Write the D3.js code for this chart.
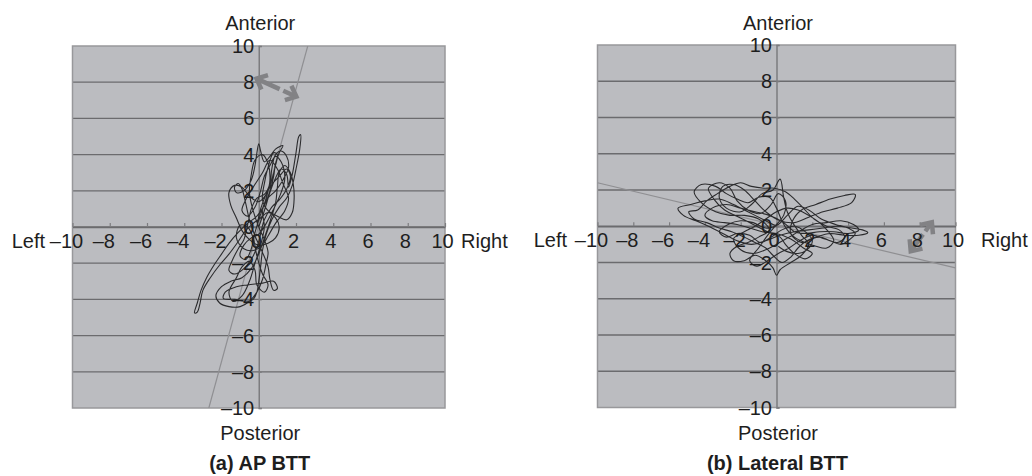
<!DOCTYPE html>
<html><head><meta charset="utf-8">
<script src="https://cdn.jsdelivr.net/npm/d3@7"></script>
<style>
body{margin:0;background:#fff}
text{font-family:"Liberation Sans",Arial,Helvetica,sans-serif;fill:#1e1e1e}
</style>
</head><body>
<svg id="c" width="1032" height="476"></svg>
<script>
// ---------- data ----------
const tickValues = [-10,-8,-6,-4,-2,0,2,4,6,8,10];
const tickLabels = tickValues.map(v => v < 0 ? "\u2013" + Math.abs(v) : String(v));
const captions = ["(a) AP BTT", "(b) Lateral BTT"];
const dirTop = "Anterior", dirBottom = "Posterior", dirLeft = "Left", dirRight = "Right";

// body-trunk-tilt trace, AP task (x: left/right, y: posterior/anterior)
const apTrace = [
 [0.0,0.0],[0.3,0.9],[0.6,1.9],[0.9,2.7],[1.2,3.2],[1.5,2.9],[1.6,2.2],[1.8,2.9],[2.0,4.1],[2.15,5.0],[2.25,5.1],[2.2,4.3],[2.0,3.2],[1.8,2.3],[1.5,1.6],[1.1,1.1],[0.7,0.4],[0.4,-0.4],
 [0.2,-1.3],[0.1,-2.2],[0.0,-3.0],[-0.1,-3.6],[-0.3,-4.0],[-0.7,-4.1],[-1.3,-4.0],[-1.9,-3.95],[-1.8,-3.6],[-1.2,-3.3],[-0.6,-3.2],[0.2,-3.1],[0.8,-3.0],[1.0,-3.4],[0.8,-3.5],[0.6,-2.9],[0.5,-2.2],[0.2,-1.4],
 [-0.2,-0.5],[-0.5,0.4],[-0.7,1.3],[-0.9,2.1],[-1.1,2.4],[-1.3,2.2],[-1.2,1.9],[-0.8,2.0],[-0.4,2.6],[-0.2,3.4],[-0.1,4.1],[0.0,4.6],[0.1,4.2],[0.3,3.6],[0.6,3.9],[0.9,4.3],[1.3,4.5],[1.1,4.1],[0.9,3.5],[0.8,2.8],[0.6,2.0],
 [0.3,1.2],[-0.1,0.6],[-0.6,0.2],[-1.1,-0.3],[-1.6,-0.9],[-2.0,-1.5],[-2.4,-2.1],[-2.8,-2.8],[-3.1,-3.5],[-3.3,-4.2],[-3.45,-4.75],[-3.3,-4.7],[-3.15,-4.2],[-3.0,-3.5],[-2.6,-2.8],[-2.1,-2.1],[-1.6,-1.5],
 [-1.1,-0.8],[-0.7,-0.2],[-0.3,0.2],[0.1,0.5],[0.5,0.8],[0.9,0.5],[1.1,0.0],[0.9,-0.6],[0.5,-0.9],[0.0,-1.0],[-0.5,-0.7],[-0.9,-0.2],[-1.2,0.5],[-1.5,1.2],[-1.6,1.9],[-1.3,2.3],[-0.9,2.2],[-0.5,1.7],[0.0,1.4],[0.4,1.8],[0.7,2.6],[0.9,3.4],[1.0,4.0],[0.8,4.1],[0.5,3.3],[0.3,2.4],[0.2,1.5],
 [0.5,0.9],[1.0,0.6],[1.5,0.4],[1.8,0.8],[1.9,1.6],[1.85,2.4],[1.7,3.0],[1.4,3.4],[1.1,3.0],[1.0,2.2],[0.9,1.3],[0.6,0.3],[0.3,-0.6],
 [0.0,-1.5],[-0.4,-2.3],[-0.9,-2.8],[-1.5,-3.0],[-2.0,-3.3],[-2.3,-3.8],[-2.1,-4.2],[-1.6,-4.4],[-1.0,-4.4],[-0.5,-4.1],[-0.1,-3.6],[0.2,-2.9],[0.4,-2.0],[0.5,-1.4],[0.3,-0.7],
 [0.0,0.0],[-0.3,0.9],[-0.5,1.9],[-0.4,2.9],[-0.2,3.7],[0.2,4.0],[0.5,3.5],[0.6,2.6],[0.4,1.6],[0.1,0.7],[-0.2,-0.3],[-0.4,-1.2],[-0.7,-1.8],[-1.0,-1.6],[-0.8,-1.0],[-0.4,-0.6],[0.0,-0.4],[0.4,0.2],[0.8,1.0],[1.2,1.9],[1.4,2.7],[1.2,3.6],[0.9,3.9],[0.6,3.4],
 [0.3,2.8],[0.1,2.0],[-0.2,1.1],[-0.6,0.6],[-0.9,0.9],[-0.7,1.5],[-0.3,2.2],[0.2,3.0],[0.6,3.7],[1.0,3.2],[1.3,2.4],[1.6,1.6],[1.4,0.9],[0.9,0.2],[0.5,-0.5],[0.2,-1.0],[-0.3,-1.3],[-0.8,-1.2],[-1.2,-0.6],[-1.0,0.1],[-0.6,0.0],[-0.3,-0.6],[-0.1,-1.6],[0.2,-2.6],[0.5,-3.2],[0.3,-3.6],[-0.1,-3.2],[-0.2,-2.4],[-0.5,-1.9],[-0.9,-2.2],[-1.2,-2.8],[-1.6,-3.6],[-1.4,-4.1],[-0.9,-3.8],[-0.5,-3.0],[-0.2,-2.0],[0.1,-1.0],[0.3,0.0],[0.2,1.0],[0.5,1.6],[0.9,2.0],[1.3,2.6],[1.6,3.3],[1.5,3.9],[1.2,4.2],[0.9,4.0],[0.7,3.2],[0.6,2.4],[0.3,1.8],[-0.1,1.6],[-0.4,1.0],[-0.6,0.1],[-0.8,-0.7],[-1.1,-1.2],[-1.4,-1.8],[-1.6,-2.4],[-1.3,-2.6],[-0.8,-2.3],[-0.3,-1.6],[0.0,-0.8],[0.3,0.4],[0.7,1.1],[1.1,1.5],[1.5,2.1],[1.7,2.8],[1.5,3.2],[1.1,2.8],[0.6,2.2],[0.1,1.0],[-0.1,0.0]
];

// body-trunk-tilt trace, lateral task
const latTrace = [
 [0,0],[-0.8,0.4],[-1.6,0.8],[-2.4,1.2],[-3.2,1.5],[-4.0,1.4],[-4.8,1.2],[-5.5,1.0],[-5.2,0.6],[-4.5,0.3],[-3.8,0.0],[-3.0,-0.4],[-2.2,-0.8],[-1.4,-1.0],[-0.6,-0.8],[0.2,-0.5],[1.0,-0.3],[1.8,-0.2],[2.6,-0.1],[3.4,0.0],[4.2,-0.1],[4.8,-0.2],[5.1,-0.35],[4.6,-0.5],[3.8,-0.5],[3.0,-0.4],[2.2,-0.6],[1.4,-0.9],
 [0.8,-0.4],[0.9,0.3],[1.4,0.9],[2.2,1.2],[3.0,1.5],[3.8,1.7],[4.4,1.75],[4.2,1.3],[3.4,1.0],[2.6,0.8],[1.8,0.5],[1.0,0.2],[0.2,0.3],
 [-0.6,0.8],[-1.2,1.4],[-1.8,2.0],[-2.4,2.3],[-3.0,2.2],[-3.2,1.6],[-2.8,1.0],[-2.0,0.8],[-1.4,1.2],[-0.8,1.8],[-0.2,2.0],[0.2,2.6],[0.4,1.6],[0.6,0.8],[0.9,0.2],
 [1.4,-0.5],[1.8,-1.0],[1.4,-1.6],[0.8,-2.0],[0.2,-2.4],[0.0,-2.7],[-0.2,-2.3],[-0.6,-1.9],[-1.2,-1.6],[-1.8,-1.9],[-2.4,-1.9],[-2.6,-1.5],[-2.2,-1.1],[-1.6,-0.9],[-1.0,-0.6],[-0.4,-0.2],
 [-1.0,0.4],[-1.8,0.6],[-2.6,0.6],[-3.4,0.8],[-4.2,1.3],[-4.6,1.9],[-4.2,2.3],[-3.4,2.2],[-2.8,1.8],[-2.2,1.5],[-1.6,1.3],[-1.0,1.6],[-0.4,1.6],[0.0,1.0],[0.3,0.3],
 [0.6,-0.2],[1.0,-0.6],[1.6,-0.9],[2.2,-1.1],[2.8,-1.2],[3.2,-0.8],[2.9,-0.3],[2.4,0.2],[1.8,0.6],[1.2,0.9],[0.6,1.0],[0.0,0.8],[-0.6,0.4],[-1.2,0.0],[-1.8,-0.3],[-2.4,-0.7],[-2.0,-1.3],[-1.3,-1.5],[-0.6,-1.3],[0.0,-1.0],[0.7,-0.6],[1.4,-0.2],[2.0,0.1],[2.8,0.2],[3.6,0.3],[4.3,0.1],[4.6,-0.2],[4.0,-0.4],[3.2,-0.3],[2.4,-0.3],[1.6,-0.4],[1.0,-0.3],
 [0.4,0.2],[-0.4,0.6],[-1.2,0.8],[-2.0,1.0],[-2.8,1.2],[-3.6,1.0],[-4.0,0.6],[-3.6,0.3],[-2.9,0.2],[-2.2,0.1],[-1.5,-0.1],[-0.8,-0.3],[0.0,-0.4],[0.8,-0.7],[1.5,-1.2],[2.0,-1.5],[1.6,-1.8],[1.0,-1.5],[0.5,-1.0],[0.2,-0.6],
 [-0.5,-0.3],[-1.3,0.1],[-2.1,0.5],[-2.9,0.9],[-3.5,1.5],[-3.8,2.1],[-3.2,2.4],[-2.6,2.1],[-2.2,1.4],[-1.6,0.9],[-0.9,0.7],[-0.3,1.2],[0.1,1.8],[0.5,1.4],[0.4,0.6],[0.0,0.1],[-0.5,-0.5],[-1.0,-1.2],[-1.5,-1.9],[-1.1,-2.2],[-0.5,-1.9],[0.1,-1.5],[0.7,-1.2],[1.3,-0.8],[2.0,-0.5],[2.7,-0.7],[3.4,-0.9],[3.8,-0.6],[3.5,-0.2],[2.8,0.0],[2.1,0.4],[1.5,1.0],[1.0,1.5],[0.5,1.9],[-0.1,2.1],[-0.7,2.1],[-1.4,2.2],[-2.0,2.4],[-2.6,2.2],[-3.3,1.8],[-3.9,1.4],[-4.4,0.9],[-4.9,0.8],[-4.6,0.4],[-3.9,0.2],[-3.2,-0.1],[-2.5,-0.3],[-1.8,-0.6],[-1.2,-0.9],[-0.6,-1.2],[-0.2,-1.6],[0.3,-2.0],[0.8,-1.7],[1.2,-1.2],[1.7,-0.8],[2.4,-0.6],[3.0,-0.8],[3.6,-1.0],[4.0,-0.8],[4.4,-0.4],[4.0,-0.1],[3.3,0.1],[2.5,0.4],[1.8,0.9],[1.2,1.1],[0.6,0.6],[0.1,0.1],[-0.6,-0.1],[-1.3,0.2],[-2.0,0.3],[-2.7,0.1],[-3.2,-0.3],[-2.8,-0.6],[-2.2,-0.4],[-1.5,-0.5],[-0.9,-0.9],[-0.3,-0.6],[0.3,-0.2],[1.0,0.0],[1.6,-0.3],[2.0,-0.8],[1.7,-1.3],[1.2,-1.5],[0.6,-1.4],[0.1,-1.1]
];

// fitted principal-direction lines and direction arrows
const apFitLine  = [[-2.68,-10],[2.63,10]];
const latFitLine = [[-10,2.4],[10,-2.3]];
const apArrow  = [[-0.12,8.2],[2.02,7.2]];
const latArrow = [[7.5,-1.38],[8.68,0.22]];

// ---------- drawing ----------
const svg = d3.select("#c");
const FS = 20;

const panels = [
  {box:{x0:72.5, x1:445, y0:46, y1:408}, trace:apTrace, fit:apFitLine, arrow:apArrow, caption:captions[0], leftOff:27.5, rightOff:16},
  {box:{x0:597.5, x1:955.5, y0:45, y1:407.5}, trace:latTrace, fit:latFitLine, arrow:latArrow, caption:captions[1], leftOff:30.5, rightOff:25.5}
];

panels.forEach((p, i) => {
  const b = p.box;
  const x = d3.scaleLinear().domain([-10,10]).range([b.x0, b.x1]);
  const y = d3.scaleLinear().domain([-10,10]).range([b.y1, b.y0]);
  const g = svg.append("g");
  const cx = x(0), cy = y(0);

  g.append("clipPath").attr("id","clip"+i).append("rect")
    .attr("x",b.x0).attr("y",b.y0).attr("width",b.x1-b.x0).attr("height",b.y1-b.y0);

  g.append("rect").attr("x",b.x0).attr("y",b.y0).attr("width",b.x1-b.x0).attr("height",b.y1-b.y0)
    .attr("fill","#bbbcc0");

  // horizontal gridlines
  g.selectAll(".grid").data(tickValues.filter(v => v > -10 && v < 10)).enter().append("line")
    .attr("x1",b.x0).attr("x2",b.x1).attr("y1",d=>y(d)).attr("y2",d=>y(d))
    .attr("stroke","#6b6b6e").attr("stroke-width",1.3);

  // border
  g.append("rect").attr("x",b.x0).attr("y",b.y0).attr("width",b.x1-b.x0).attr("height",b.y1-b.y0)
    .attr("fill","none").attr("stroke","#98989b").attr("stroke-width",1.5);

  // vertical axis (y axis through x=0)
  const yAxis = d3.axisRight(y).tickValues(tickValues).tickSize(3).tickFormat("");
  g.append("g").attr("transform",`translate(${cx},0)`).call(yAxis)
    .call(s => { s.select(".domain").attr("stroke","#7c7c7f").attr("stroke-width",1.5);
                 s.selectAll(".tick line").attr("stroke","#7c7c7f").attr("stroke-width",1.2); });

  // horizontal axis (x axis through y=0)
  const xAxis = d3.axisTop(x).tickValues(tickValues).tickSize(4).tickSizeOuter(0).tickFormat("");
  g.append("g").attr("transform",`translate(0,${cy})`).call(xAxis)
    .call(s => { s.select(".domain").attr("stroke","#6b6b6e").attr("stroke-width",1.3);
                 s.selectAll(".tick line").attr("stroke","#7c7c7f").attr("stroke-width",1.2); });

  // fit line
  g.append("line").attr("clip-path",`url(#clip${i})`)
    .attr("x1",x(p.fit[0][0])).attr("y1",y(p.fit[0][1]))
    .attr("x2",x(p.fit[1][0])).attr("y2",y(p.fit[1][1]))
    .attr("stroke","#8f8f92").attr("stroke-width",1.2);

  // trace
  const line = d3.line().x(d=>x(d[0])).y(d=>y(d[1])).curve(d3.curveCatmullRom.alpha(0.5));
  g.append("path").attr("d",line(p.trace)).attr("fill","none")
    .attr("stroke","#2b2b2d").attr("stroke-width",1.1).attr("stroke-linejoin","round");

  // direction arrow (double headed)
  const a0 = [x(p.arrow[0][0]), y(p.arrow[0][1])], a1 = [x(p.arrow[1][0]), y(p.arrow[1][1])];
  const len = Math.hypot(a1[0]-a0[0], a1[1]-a0[1]);
  const ag = g.append("g").attr("stroke","#828285").attr("stroke-width",4.5).attr("fill","none")
    .attr("stroke-linejoin","miter");
  ag.append("line").attr("x1",a0[0]).attr("y1",a0[1]).attr("x2",a1[0]).attr("y2",a1[1])
    .attr("stroke-dasharray",`${len*0.58},4,${len}`);
  const head = (tip, from) => {
    const ang = Math.atan2(from[1]-tip[1], from[0]-tip[0]);
    const L = 12, h = 0.72;
    const pA = [tip[0]+L*Math.cos(ang+h), tip[1]+L*Math.sin(ang+h)];
    const pB = [tip[0]+L*Math.cos(ang-h), tip[1]+L*Math.sin(ang-h)];
    ag.append("polyline").attr("points",[pA,tip,pB].map(q=>q.join(",")).join(" "));
  };
  head(a0, a1); head(a1, a0);

  // y tick labels
  g.selectAll(".yl").data(tickValues).enter().append("text")
    .attr("x",cx-4.5).attr("y",d=>y(d)+7).attr("text-anchor","end")
    .attr("font-size",FS).text((d,k)=>tickLabels[k]);

  // x tick labels
  g.selectAll(".xl").data(tickValues).enter().append("text")
    .attr("x",d=>x(d) - (d<0 ? 6 : 2.5)).attr("y",cy+20.5).attr("text-anchor","middle")
    .attr("font-size",FS).text((d,k)=>tickLabels[k]);

  // direction names
  g.append("text").attr("x",cx+1.5).attr("y",29.5).attr("text-anchor","middle").attr("font-size",FS).text(dirTop);
  g.append("text").attr("x",cx+1.5).attr("y",439.5).attr("text-anchor","middle").attr("font-size",FS).text(dirBottom);
  g.append("text").attr("x",b.x0-p.leftOff).attr("y",cy+20.5).attr("text-anchor","end").attr("font-size",FS).text(dirLeft);
  g.append("text").attr("x",b.x1+p.rightOff).attr("y",cy+20.5).attr("text-anchor","start").attr("font-size",FS).text(dirRight);

  // caption
  g.append("text").attr("x",cx+1).attr("y",470).attr("text-anchor","middle").attr("font-size",FS)
    .attr("font-weight","bold").text(p.caption);
});
</script>
</body></html>
